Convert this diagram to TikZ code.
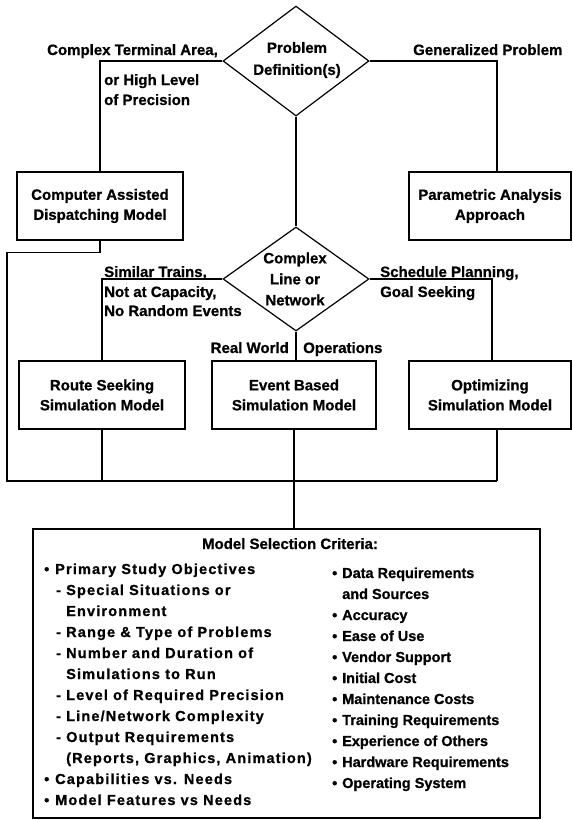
\documentclass[tikz,border=0pt]{standalone}
\usepackage{fontspec}
\setmainfont{Liberation Sans}[BoldFeatures={FakeBold=0.8}]
\newfontfamily\lsfam{Liberation Sans}[LetterSpace=8,BoldFeatures={FakeBold=0.8}]
\usetikzlibrary{shapes.geometric}
\newcommand\upfont{\fontsize{15}{20}\selectfont\bfseries}
\newcommand\lcolfont{\lsfam\fontsize{14.5}{21}\selectfont\bfseries}
\newcommand\rcolfont{\fontsize{14.5}{21}\selectfont\bfseries}
\tikzset{
  box/.style={draw, line width=1.2pt, inner sep=0pt, align=center, font=\upfont},
  dia/.style={draw, diamond, line width=1.2pt, inner sep=0pt},
  lbl/.style={inner sep=0pt, font=\upfont},
  conn/.style={line width=1.2pt},
  lcol/.style={inner sep=0pt, anchor=base west, font=\lcolfont},
  rcol/.style={inner sep=0pt, anchor=base west, font=\rcolfont},
}
\begin{document}
\begin{tikzpicture}[x=1pt,y=-1pt]
\fill[white] (0,0) rectangle (573,820);
\useasboundingbox (0,0) rectangle (573,820);

% diamonds
\node[dia, minimum width=146pt, minimum height=110pt] (d1) at (296,61) {};
\node[lbl, align=center, font=\upfont\fontsize{15}{22}\selectfont] (d1t) at (297,60) {Problem\\Definition(s)};
\node[dia, minimum width=146pt, minimum height=104pt] (d2) at (296,279) {};
\node[lbl, align=center, font=\upfont\fontsize{15}{21}\selectfont] (d2t) at (295,279) {Complex\\Line or\\Network};

% boxes
\node[box, minimum width=166pt, minimum height=68pt] (cad) at (100,206) {Computer Assisted\\Dispatching Model};
\node[box, minimum width=162pt, minimum height=68pt] (paa) at (490,206) {Parametric Analysis\\Approach};
\node[box, minimum width=166pt, minimum height=68pt] (rs) at (102,395) {Route Seeking\\Simulation Model};
\node[box, minimum width=164pt, minimum height=68pt] (ev) at (294,395) {Event Based\\Simulation Model};
\node[box, minimum width=162pt, minimum height=68pt] (opt) at (490,395) {Optimizing\\Simulation Model};
\node[draw, line width=1.2pt, inner sep=0pt, minimum width=507pt, minimum height=289pt] (msc) at (286.5,673.5) {};

% bus coordinates
\coordinate (busL) at (7,481);
\coordinate (busR) at (497,481);

% connectors
\draw[conn] (d1.west) -| (cad.north);
\draw[conn] (d1.east) -| ([xshift=7pt]paa.north);
\draw[conn] (d1.south) -- (d2.north);
\draw[conn] (d2.west) -| (rs.north);
\draw[conn] (d2.east) -| ([xshift=2pt]opt.north);
\draw[conn] (d2.south) -- (d2.south |- ev.north);
\draw[conn] (cad.south) -- ++(0,12) -| (busL) -- (busR);
\draw[conn] (rs.south) -- (rs.south |- busL);
\draw[conn] ([xshift=7pt]opt.south) -- (busR);
\draw[conn] (ev.south) -- (ev.south |- msc.north);

% branch labels
\node[lbl, anchor=base east] (l1) at (218,55) {Complex Terminal Area,};
\node[lbl, anchor=base west] (l2) at (104,85) {or High Level};
\node[lbl, anchor=base west] (l3) at (104,105) {of Precision};
\node[lbl, anchor=base west] (l4) at (413,55) {Generalized Problem};
\node[lbl, anchor=base west] (l5) at (104,277) {Similar Trains,};
\node[lbl, anchor=base west] (l6) at (104,297) {Not at Capacity,};
\node[lbl, anchor=base west] (l7) at (104,316) {No Random Events};
\node[lbl, anchor=base west] (l8) at (380,277) {Schedule Planning,};
\node[lbl, anchor=base west] (l9) at (380,297) {Goal Seeking};
\node[lbl, anchor=base east] (l10) at (289,353) {Real World};
\node[lbl, anchor=base west] (l11) at (303,353) {Operations};

% criteria box text
\node[lbl, anchor=base] (title) at (290,549) {Model Selection Criteria:};
\node[lcol] (a1) at (44,574) {\makebox[11pt][l]{•}Primary Study Objectives};
\node[lcol] (a2) at (56,595) {\makebox[10pt][l]{-}Special Situations or};
\node[lcol] (a3) at (66,616) {Environment};
\node[lcol] (a4) at (56,637) {\makebox[10pt][l]{-}Range \& Type of Problems};
\node[lcol] (a5) at (56,658) {\makebox[10pt][l]{-}Number and Duration of};
\node[lcol] (a6) at (66,679) {Simulations to Run};
\node[lcol] (a7) at (56,700) {\makebox[10pt][l]{-}Level of Required Precision};
\node[lcol] (a8) at (56,721) {\makebox[10pt][l]{-}Line/Network Complexity};
\node[lcol] (a9) at (56,742) {\makebox[10pt][l]{-}Output Requirements};
\node[lcol] (a10) at (66,763) {(Reports, Graphics, Animation)};
\node[lcol] (a11) at (44,784) {\makebox[11pt][l]{•}Capabilities vs. Needs};
\node[lcol] (a12) at (44,805) {\makebox[11pt][l]{•}Model Features vs Needs};

\node[rcol] (b1) at (332,578) {\makebox[10pt][l]{•}Data Requirements};
\node[rcol] (b2) at (342,599) {and Sources};
\node[rcol] (b3) at (332,620) {\makebox[10pt][l]{•}Accuracy};
\node[rcol] (b4) at (332,641) {\makebox[10pt][l]{•}Ease of Use};
\node[rcol] (b5) at (332,662) {\makebox[10pt][l]{•}Vendor Support};
\node[rcol] (b6) at (332,683) {\makebox[10pt][l]{•}Initial Cost};
\node[rcol] (b7) at (332,704) {\makebox[10pt][l]{•}Maintenance Costs};
\node[rcol] (b8) at (332,725) {\makebox[10pt][l]{•}Training Requirements};
\node[rcol] (b9) at (332,746) {\makebox[10pt][l]{•}Experience of Others};
\node[rcol] (b10) at (332,767) {\makebox[10pt][l]{•}Hardware Requirements};
\node[rcol] (b11) at (332,788) {\makebox[10pt][l]{•}Operating System};
\end{tikzpicture}
\end{document}
